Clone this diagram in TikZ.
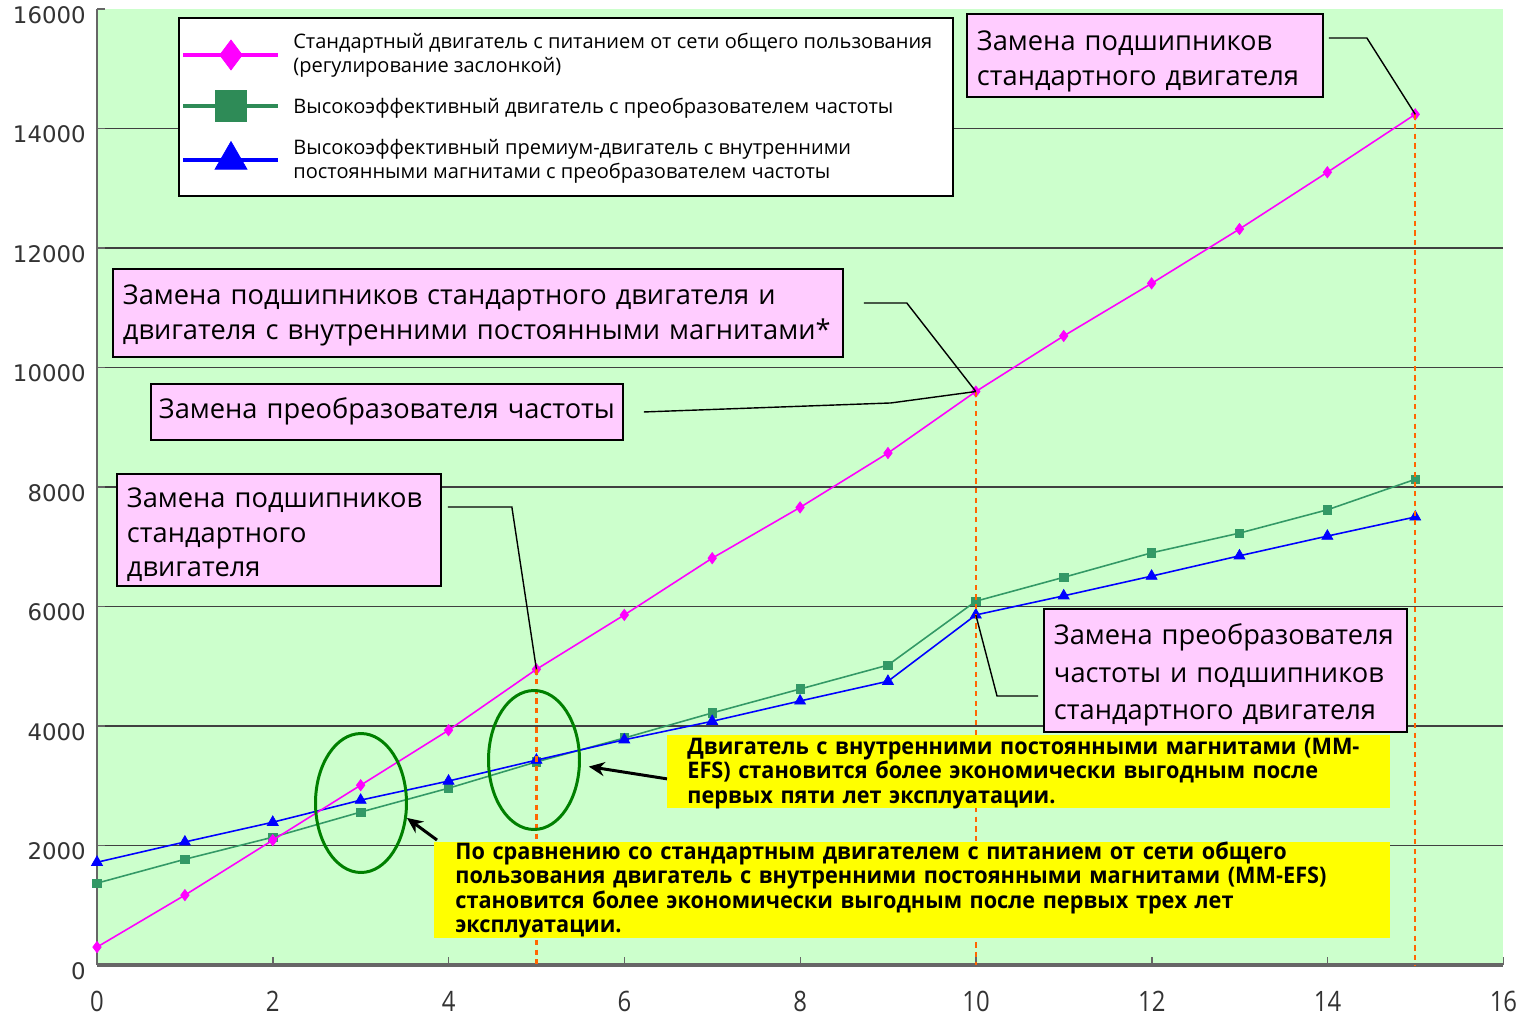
\documentclass[tikz,border=0pt]{standalone}
\usepackage{fontspec}
\setmainfont{Open Sans}
\newfontfamily\tickfont{DejaVu Sans}
\newfontfamily\narrowfont[FakeStretch=0.85]{Open Sans}
\newfontfamily\notefont[FakeStretch=0.95]{Open Sans}
\usepackage{tikz}
\usetikzlibrary{positioning,shapes.geometric,plotmarks,arrows.meta}
\definecolor{bggreen}{HTML}{CCFFCC}
\definecolor{boxpink}{HTML}{FFCCFF}
\definecolor{stdmag}{HTML}{FF00FF}
\definecolor{vfdgreen}{HTML}{339966}
\definecolor{legsq}{HTML}{2E8B57}
\definecolor{pmblue}{HTML}{0000FF}
\definecolor{dropor}{HTML}{FF6600}
\definecolor{ringgreen}{HTML}{008000}
\definecolor{notey}{HTML}{FFFF00}

\begin{document}
\begin{tikzpicture}[x=0.02cm,y=-0.02cm,
    callout/.style={draw=black,line width=1.1pt,fill=boxpink,anchor=north west,align=left,inner xsep=0.2cm,inner ysep=0pt,font=\fontsize{15.5}{19.4}\selectfont},
    note/.style={fill=notey,anchor=north west,align=left,inner xsep=0.4cm,inner ysep=0pt,font=\notefont\bfseries\fontsize{13}{13.9}\selectfont},
    leader/.style={black,line width=0.8pt},
    pointer/.style={black,line width=1.7pt,-{Stealth[length=9pt,width=8pt]}},
    ring/.style={ellipse,draw=ringgreen,line width=1.7pt,inner sep=0pt},
    gridline/.style={black!75,line width=1pt},
    dropline/.style={dropor,line width=1.4pt,dash pattern=on 3pt off 2.5pt},
    magline/.style={stdmag,line width=0.9pt,mark options={fill=stdmag,draw=stdmag,line width=0.4pt}},
    grnline/.style={vfdgreen,line width=0.9pt,mark options={fill=vfdgreen,draw=vfdgreen,line width=0.4pt}},
    bluline/.style={pmblue,line width=0.9pt,mark options={fill=pmblue,draw=pmblue,line width=0.4pt}},
    legtext/.style={anchor=west,align=left,inner sep=0pt,font=\fontsize{11.4}{13.7}\selectfont},
    ylab/.style={anchor=east,inner sep=0pt,text=black!80,font=\tickfont\fontsize{13}{13}\selectfont},
    xlab/.style={inner sep=0pt,text=black!80,font=\narrowfont\fontsize{16}{16}\selectfont}]
    \useasboundingbox (0,0) rectangle (1524,1028);
    \fill[bggreen] (97,9) rectangle (1503,965);
    \foreach \v in {2,4,...,14}
        \draw[gridline] (97,{965-59.75*\v}) -- (1503,{965-59.75*\v});
    \foreach \v in {0,2,...,16}
        \draw[black!60,line width=0.8pt] (97,{965-59.75*\v}) -- (105,{965-59.75*\v});
    \foreach \t in {2,4,...,16}
        \draw[black!60,line width=0.8pt] ({97+87.9*\t},965) -- ({97+87.9*\t},957);
    \draw[black!60,line width=1pt] (97,9) -- (97,965);
    \draw[black!60,line width=1.8pt] (97,965) -- (1503,965);
    \foreach \v/\lab in {0/0,2/2000,4/4000,6/6000,8/8000,10/10000,12/12000,14/14000,16/16000}
        \node[ylab] at (86,{971-59.75*\v}) {\lab};
    \foreach \t in {0,2,...,16}
        \node[xlab] at ({97+87.9*\t},1001) {\t};

    \begin{scope}[shift={(97,965)},x=1.758cm,y=1.195cm]
        \draw[grnline] plot[mark=square*,mark size=2.4pt] coordinates {(0,1.37) (1,1.77) (2,2.14) (3,2.56) (4,2.96) (5,3.40) (6,3.80) (7,4.22) (8,4.62) (9,5.02) (10,6.09) (11,6.49) (12,6.90) (13,7.23) (14,7.62) (15,8.13)};
        \draw[bluline] plot[mark=triangle*,mark size=3.6pt] coordinates {(0,1.72) (1,2.06) (2,2.39) (3,2.76) (4,3.08) (5,3.43) (6,3.77) (7,4.08) (8,4.42) (9,4.75) (10,5.86) (11,6.18) (12,6.51) (13,6.85) (14,7.18) (15,7.50)};
        \draw[magline] plot[mark=diamond*,mark size=3.2pt] coordinates {(0,0.30) (1,1.17) (2,2.09) (3,3.01) (4,3.93) (5,4.95) (6,5.86) (7,6.81) (8,7.66) (9,8.57) (10,9.60) (11,10.53) (12,11.41) (13,12.32) (14,13.27) (15,14.24)};
        \coordinate (m5) at (5,4.95);
        \coordinate (m10) at (10,9.60);
        \coordinate (m15) at (15,14.24);
        \coordinate (b10) at (10,5.86);
        \draw[dropline] (m5) -- (5,0);
        \draw[dropline] (m10) -- (10,0);
        \draw[dropline] (m15) -- (15,0);
    \end{scope}

    \node[ring,minimum width=1.82cm,minimum height=2.78cm] (ell3) at (361,803) {};
    \node[ring,minimum width=1.82cm,minimum height=2.78cm] (ell5) at (534,760) {};

    \node (cb1) [callout,text width=6.72cm,text height=0.74cm,text depth=0.92cm] at (966,13) {Замена подшипников\\стандартного двигателя};
    \node (cb2) [callout,text width=14.2cm,text height=0.72cm,text depth=1.04cm,font=\fontsize{15.5}{19.9}\selectfont] at (112,268) {Замена подшипников стандартного двигателя и\\двигателя с внутренними постоянными магнитами*};
    \node (cb3) [callout,text width=9.12cm,text height=0.7cm,text depth=0.42cm,inner xsep=0.16cm] at (150,383) {Замена преобразователя частоты};
    \node (cb4) [callout,text width=6.08cm,text height=0.68cm,text depth=1.56cm] at (116,473) {Замена подшипников\\стандартного\\двигателя};
    \node (cb5) [callout,text width=6.86cm,text height=0.72cm,text depth=1.74cm,font=\fontsize{15.5}{21.3}\selectfont] at (1043,608) {Замена преобразователя\\частоты и подшипников\\стандартного двигателя};

    \draw[leader] ([xshift=0.1cm,yshift=0.35cm]cb1.east) -- ++(0.76cm,0) -- (m15);
    \draw[leader] ([xshift=0.4cm,yshift=0.2cm]cb2.east) -- ++(0.86cm,0) -- (m10);
    \draw[leader] ([xshift=0.4cm]cb3.east) -- ++(4.94cm,0.18cm) -- (m10);
    \draw[leader] ([xshift=0.12cm,yshift=0.46cm]cb4.east) -- ++(1.28cm,0) -- (m5);
    \draw[leader] ([xshift=-0.1cm,yshift=-0.51cm]cb5.west) -- ++(-0.82cm,0) -- (b10);

    \node (nt5) [note,text width=13.66cm,text height=0.38cm,text depth=1.08cm] at (667,735) {Двигатель с внутренними постоянными магнитами (ММ-\\EFS) становится более экономически выгодным после\\первых пяти лет эксплуатации.};
    \node (nt3) [note,text width=18.28cm,text height=0.34cm,text depth=1.58cm,inner xsep=0.42cm] at (434,842) {По сравнению со стандартным двигателем с питанием от сети общего\\пользования двигатель с внутренними постоянными магнитами (ММ-EFS)\\становится более экономически выгодным после первых трех лет\\эксплуатации.};
    \draw[pointer] ([yshift=-0.14cm]nt5.west) -- ([xshift=0.16cm]ell5.-8);
    \draw[pointer] ([xshift=0.06cm,yshift=0.04cm]nt3.north west) -- (ell3.-18);

    \node (leg) [draw=black,line width=1.1pt,fill=white,anchor=north west,minimum width=15.48cm,minimum height=3.56cm,inner sep=0pt] at (178,17) {};
    \draw[magline,line width=2.2pt] plot[mark=diamond*,mark size=8.5pt,mark indices={2}] coordinates {(183,55) (231,55) (278,55)};
    \draw[grnline,draw=legsq,line width=2pt,mark options={fill=legsq,draw=legsq}] plot[mark=square*,mark size=8.3pt,mark indices={2}] coordinates {(183,106) (231,106) (278,106)};
    \draw[bluline,line width=2.2pt] plot[mark=triangle*,mark size=10.5pt,mark indices={2}] coordinates {(183,160) (231,160) (278,160)};
    \node (lg1) [legtext] at (293,55) {Стандартный двигатель с питанием от сети общего пользования\\(регулирование заслонкой)};
    \node (lg2) [legtext] at (293,108) {Высокоэффективный двигатель с преобразователем частоты};
    \node (lg3) [legtext] at (293,161) {Высокоэффективный премиум-двигатель с внутренними\\постоянными магнитами с преобразователем частоты};
\end{tikzpicture}
\end{document}
